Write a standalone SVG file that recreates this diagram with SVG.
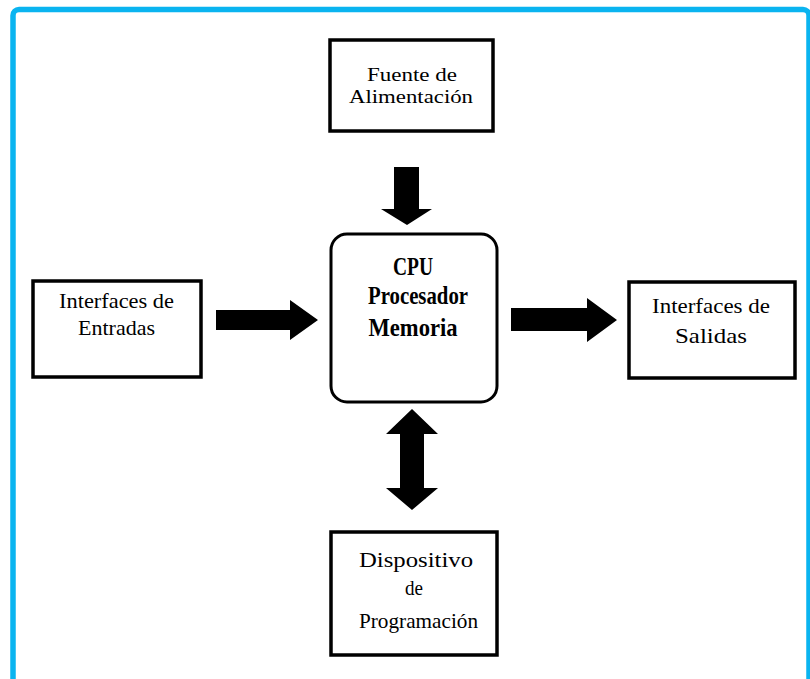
<svg xmlns="http://www.w3.org/2000/svg" width="810" height="679" viewBox="0 0 810 679">
  <style>
    .frame { fill: none; stroke: #0ab4f0; stroke-width: 5.5; }
    .box { fill: #ffffff; stroke: #000000; stroke-width: 3.5; }
    .cpu { fill: #ffffff; stroke: #000000; stroke-width: 3; }
    .arrow { fill: #000000; stroke: none; }
    .lbl { font-family: "Liberation Serif", "Times New Roman", serif; font-size: 21px; fill: #000000; text-anchor: middle; }
    .sm { font-size: 18px; }
    .bold { font-family: "Liberation Serif", "Times New Roman", serif; font-size: 25px; font-weight: bold; fill: #000000; text-anchor: middle; }
  </style>

  <rect x="0" y="0" width="810" height="679" fill="#ffffff"/>
  <!-- outer blue frame, running off the bottom edge -->
  <rect class="frame" x="13" y="9.5" width="796" height="720" rx="6"/>

  <g id="connectors">
    <!-- power supply into CPU -->
    <polygon class="arrow" points="394,167 419,167 419,209 432,209 407,225 381,209 394,209"/>
    <!-- inputs into CPU -->
    <polygon class="arrow" points="216,310 290,310 290,300 318,320 290,340 290,330 216,330"/>
    <!-- CPU to outputs -->
    <polygon class="arrow" points="511,308 587,308 587,298 617,320 587,342 587,331 511,331"/>
    <!-- CPU to programming device, both ways -->
    <polygon class="arrow" points="412,409 438,434 424,434 424,488 438,488 412,510 386,488 400,488 400,434 386,434"/>
  </g>

  <g id="fuente">
    <rect class="box" x="330" y="40" width="163" height="91"/>
    <text class="lbl sm" x="412" y="81" textLength="90" lengthAdjust="spacingAndGlyphs">Fuente de</text>
    <text class="lbl sm" x="411" y="103" textLength="124" lengthAdjust="spacingAndGlyphs">Alimentación</text>
  </g>

  <g id="cpu">
    <rect class="cpu" x="331" y="234" width="166" height="168" rx="16"/>
    <text class="bold" x="413" y="275" textLength="40" lengthAdjust="spacingAndGlyphs">CPU</text>
    <text class="bold" x="418" y="304" textLength="100" lengthAdjust="spacingAndGlyphs">Procesador</text>
    <text class="bold" x="413" y="336" textLength="89" lengthAdjust="spacingAndGlyphs">Memoria</text>
  </g>

  <g id="entradas">
    <rect class="box" x="33" y="281" width="168" height="96"/>
    <text class="lbl" x="116.5" y="308" textLength="115" lengthAdjust="spacingAndGlyphs">Interfaces de</text>
    <text class="lbl" x="116.5" y="335" textLength="77" lengthAdjust="spacingAndGlyphs">Entradas</text>
  </g>

  <g id="salidas">
    <rect class="box" x="629" y="282" width="166" height="96"/>
    <text class="lbl" x="711" y="313" textLength="118" lengthAdjust="spacingAndGlyphs">Interfaces de</text>
    <text class="lbl" x="711" y="343" textLength="72" lengthAdjust="spacingAndGlyphs">Salidas</text>
  </g>

  <g id="programacion">
    <rect class="box" x="331" y="532" width="166" height="123"/>
    <text class="lbl" x="416" y="567" textLength="114" lengthAdjust="spacingAndGlyphs">Dispositivo</text>
    <text class="lbl" x="414" y="595" textLength="18" lengthAdjust="spacingAndGlyphs">de</text>
    <text class="lbl" x="418.5" y="628" textLength="119" lengthAdjust="spacingAndGlyphs">Programación</text>
  </g>
</svg>
